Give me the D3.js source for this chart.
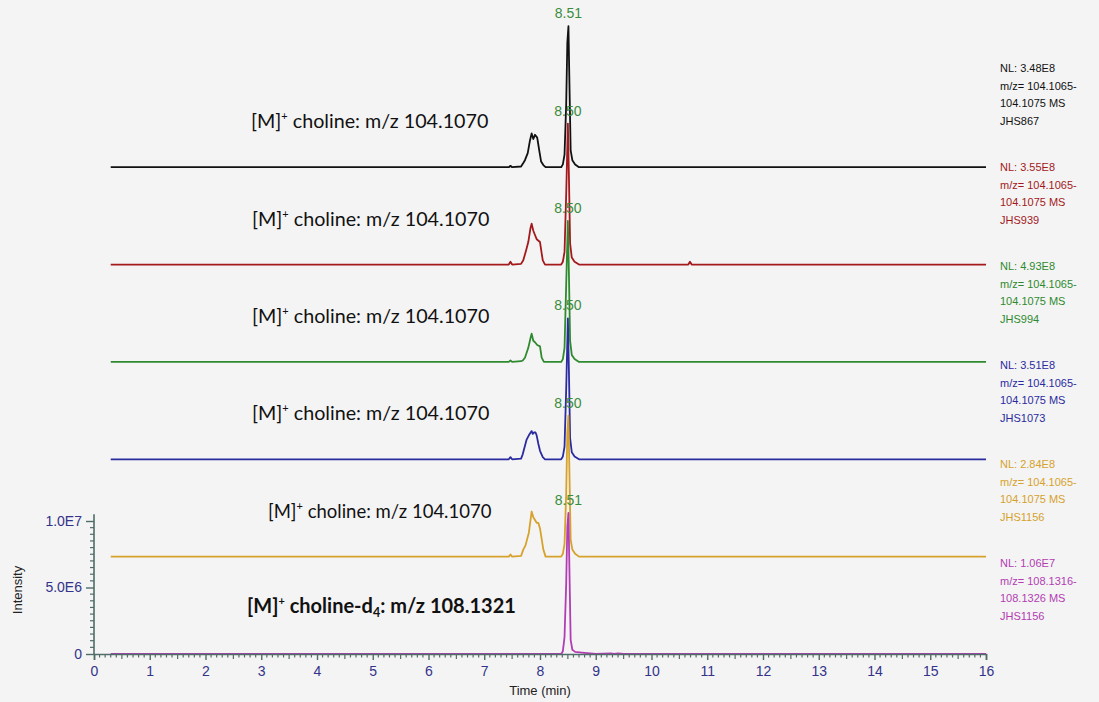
<!DOCTYPE html>
<html>
<head>
<meta charset="utf-8">
<script src="https://cdn.jsdelivr.net/npm/d3@7"></script>
<style>
  body { margin: 0; background: #f4f4f4; }
  svg { display: block; }
</style>
</head>
<body>
<div id="chart"></div>
<script>

let width = 1099
let height = 702

// traces, top to bottom; values are % of each trace's NL
let seriesNames = ['JHS867', 'JHS939', 'JHS994', 'JHS1073', 'JHS1156', 'JHS1156-d4']
let seriesColors = ['#111111', '#a3191c', '#2f8a2f', '#2b2ba0', '#d6a22c', '#b23db3']
let nlLabels = ['NL: 3.48E8', 'NL: 3.55E8', 'NL: 4.93E8', 'NL: 3.51E8', 'NL: 2.84E8', 'NL: 1.06E7']
let mzLabels = [
	['m/z= 104.1065-', '104.1075 MS'],
	['m/z= 104.1065-', '104.1075 MS'],
	['m/z= 104.1065-', '104.1075 MS'],
	['m/z= 104.1065-', '104.1075 MS'],
	['m/z= 104.1065-', '104.1075 MS'],
	['m/z= 108.1316-', '108.1326 MS']
]
let fileLabels = ['JHS867', 'JHS939', 'JHS994', 'JHS1073', 'JHS1156', 'JHS1156']
let peakTimes = [8.51, 8.50, 8.50, 8.50, 8.50, 8.51]
let peakLabels = ['8.51', '8.50', '8.50', '8.50', '8.50', '8.51']
let annotations = ['choline: m/z 104.1070', 'choline: m/z 104.1070', 'choline: m/z 104.1070',
	'choline: m/z 104.1070', 'choline: m/z 104.1070', 'choline-d']

let blackTime = [0.3, 7.44, 7.47, 7.50, 7.66, 7.70, 7.73, 7.78, 7.82, 7.85, 7.88, 7.91, 7.95, 7.99, 8.02, 8.06, 8.10, 8.38, 8.41, 8.44, 8.47, 8.49, 8.51, 8.53, 8.55, 8.58, 8.63, 8.70, 16]
let blackRel = [0, 0, 1, 0, 0.5, 3, 5, 10, 19, 24, 20, 23, 21, 11, 4, 1.5, 0, 0, 2, 9, 45, 88, 100, 55, 12, 5, 2, 0, 0]

let redTime = [0.3, 7.44, 7.47, 7.50, 7.66, 7.70, 7.75, 7.79, 7.83, 7.85, 7.88, 7.91, 7.94, 8.00, 8.03, 8.05, 8.09, 8.38, 8.41, 8.44, 8.47, 8.50, 8.52, 8.54, 8.57, 8.62, 8.70, 10.66, 10.69, 10.72, 16]
let redRel = [0, 0, 2, 0, 0.5, 3, 10, 16, 26, 29, 24, 21, 18, 16, 8, 3, 0, 0, 2, 9, 50, 100, 60, 15, 5, 2, 0, 0, 2, 0, 0]

let greenTime = [0.3, 7.44, 7.47, 7.50, 7.66, 7.69, 7.73, 7.79, 7.83, 7.85, 7.88, 7.91, 7.95, 8.00, 8.03, 8.07, 8.38, 8.41, 8.44, 8.47, 8.50, 8.52, 8.54, 8.57, 8.62, 8.70, 16]
let greenRel = [0, 0, 1, 0, 0.5, 1, 3, 10, 17, 20, 15, 14, 12, 11, 3, 0, 0, 2, 10, 55, 100, 60, 15, 5, 2, 0, 0]

let blueTime = [0.3, 7.44, 7.47, 7.50, 7.66, 7.69, 7.76, 7.80, 7.85, 7.87, 7.89, 7.92, 7.94, 7.97, 8.00, 8.05, 8.09, 8.38, 8.41, 8.44, 8.47, 8.50, 8.52, 8.54, 8.57, 8.62, 8.70, 16]
let blueRel = [0, 0, 1.5, 0, 0.5, 3.5, 14, 17, 20, 18, 19, 19, 17, 11, 6, 1.5, 0, 0, 2, 9, 50, 100, 60, 15, 5, 2, 0, 0]

let orangeTime = [0.3, 7.44, 7.47, 7.50, 7.66, 7.70, 7.74, 7.76, 7.80, 7.85, 7.88, 7.91, 7.94, 7.97, 8.00, 8.06, 8.10, 8.38, 8.41, 8.44, 8.47, 8.49, 8.51, 8.53, 8.55, 8.58, 8.63, 8.70, 16]
let orangeRel = [0, 0, 1.5, 0, 0.5, 5, 8, 11, 17, 32, 28, 26, 24, 24, 20, 5, 0, 0, 2, 9, 45, 88, 100, 55, 12, 5, 2, 0, 0]

let magentaTime = [0.3, 8.38, 8.41, 8.44, 8.47, 8.49, 8.51, 8.53, 8.55, 8.58, 8.63, 8.75, 8.90, 9.00, 9.27, 9.33, 9.40, 9.50, 16]
let magentaRel = [0, 0, 2, 12, 50, 90, 100, 55, 10, 3, 1.5, 1, 0.5, 0, 0.5, 0, 0.5, 0, 0]

let seriesTime = [blackTime, redTime, greenTime, blueTime, orangeTime, magentaTime]
let seriesRel = [blackRel, redRel, greenRel, blueRel, orangeRel, magentaRel]

// vertical stacking step between traces, in intensity units of the bottom trace
let stackStep = 7.32e6
let bottomNL = 1.06e7

let xTicks = d3.range(0, 17)
let yTicks = [0, 5e6, 1e7]
let yTickLabels = ['0', '5.0E6', '1.0E7']

const svg = d3.select('#chart')
	.append('svg')
	.attr('width', width)
	.attr('height', height)
	.style('font-family', 'Liberation Sans, Arial, sans-serif')

svg.append('rect')
	.attr('width', width)
	.attr('height', height)
	.attr('fill', '#f4f4f4')

let xScale = d3.scaleLinear()
	.domain([0, 16])
	.range([94, 986])

let yScale = d3.scaleLinear()
	.domain([0, 1e7])
	.range([654, 521])

let axisColor = '#4f6d68'
let labelColor = '#33338a'

// traces
let line = d3.line()
	.x(d => xScale(d.t))
	.y(d => yScale(d.v))

let nTraces = seriesNames.length

for(let i = 0; i < nTraces; i++){

	let offset = (nTraces - 1 - i) * stackStep

	let pts = seriesTime[i].map((t, j) => ({'t': t, 'v': offset + seriesRel[i][j] / 100 * bottomNL}))

	svg.append('path')
		.datum(pts)
		.attr('d', line)
		.attr('fill', 'none')
		.attr('stroke', seriesColors[i])
		.attr('stroke-width', 1.8)
		.attr('stroke-linejoin', 'round')

	// peak retention time label
	svg.append('text')
		.attr('x', xScale(peakTimes[i]))
		.attr('y', yScale(offset + bottomNL) - 8)
		.attr('text-anchor', 'middle')
		.attr('fill', '#3b8c3b')
		.style('font-size', '14px')
		.text(peakLabels[i])
}

// x axis
let xAxis = g => g.attr('transform', `translate(0,654)`)
	.call(d3.axisBottom(xScale).tickValues(xTicks).tickSize(6).tickPadding(6).tickFormat(d3.format('d')))

let gx = svg.append('g').call(xAxis)
gx.select('.domain').attr('stroke', axisColor).attr('stroke-width', 1.6)
gx.selectAll('line').attr('stroke', axisColor).attr('stroke-width', 1.4)
gx.selectAll('text').attr('fill', labelColor).style('font-size', '14px').style('font-family', 'Liberation Sans, Arial, sans-serif')

let xMinor = d3.range(0, 160).map(d => d / 10).filter(d => Math.abs(d - Math.round(d)) > 0.01)
svg.append('g').selectAll('line')
	.data(xMinor)
	.enter()
	.append('line')
	.attr('x1', d => xScale(d))
	.attr('x2', d => xScale(d))
	.attr('y1', 654)
	.attr('y2', d => Math.abs(d % 1 - 0.5) < 0.01 ? 659 : 657.5)
	.attr('stroke', axisColor)
	.attr('stroke-width', 1.2)

// y axis
let yAxis = g => g.attr('transform', `translate(94,0)`)
	.call(d3.axisLeft(yScale).tickValues(yTicks).tickSize(8).tickPadding(4).tickFormat((d, i) => yTickLabels[i]))

let gy = svg.append('g').call(yAxis)
gy.select('.domain').remove()
gy.selectAll('line').attr('stroke', axisColor).attr('stroke-width', 1.4)
gy.selectAll('text').attr('fill', labelColor).style('font-size', '14px').style('font-family', 'Liberation Sans, Arial, sans-serif')

svg.append('line')
	.attr('x1', 94).attr('x2', 94)
	.attr('y1', yScale(0)).attr('y2', yScale(1.05e7))
	.attr('stroke', axisColor)
	.attr('stroke-width', 1.6)

let yMinor = d3.range(5e5, 1.05e7, 5e5).filter(d => d % 5e6 !== 0)
svg.append('g').selectAll('line')
	.data(yMinor)
	.enter()
	.append('line')
	.attr('x1', 90)
	.attr('x2', 94)
	.attr('y1', d => yScale(d))
	.attr('y2', d => yScale(d))
	.attr('stroke', axisColor)
	.attr('stroke-width', 1.2)

// axis titles
svg.append('text')
	.attr('x', xScale(8))
	.attr('y', 695)
	.attr('text-anchor', 'middle')
	.attr('fill', '#222')
	.style('font-size', '13px')
	.text('Time (min)')

svg.append('text')
	.attr('transform', 'translate(22,590) rotate(-90)')
	.attr('text-anchor', 'middle')
	.attr('fill', '#222')
	.style('font-size', '13px')
	.text('Intensity')

// right-hand NL blocks
for(let i = 0; i < nTraces; i++){

	let top = 72 + i * 99

	let rows = [nlLabels[i], mzLabels[i][0], mzLabels[i][1], fileLabels[i]]

	svg.append('g').selectAll('text')
		.data(rows)
		.enter()
		.append('text')
		.attr('x', 1000)
		.attr('y', (d, j) => top + j * 17.5)
		.attr('fill', seriesColors[i])
		.style('font-size', '11px')
		.text(d => d)
}

// compound annotations
let annX = [251, 252, 252, 252, 268, 247]
let annSize = [19.7, 19.7, 19.7, 19.7, 18.5, 20]

for(let i = 0; i < nTraces; i++){

	let offset = (nTraces - 1 - i) * stackStep

	let bold = i === nTraces - 1

	let t = svg.append('text')
		.attr('x', annX[i])
		.attr('y', yScale(offset) - (bold ? 41 : 39))
		.attr('fill', '#111')
		.style('font-family', 'Lato, Open Sans, sans-serif')
		.style('font-size', annSize[i] + 'px')
		.style('font-weight', bold ? 'bold' : 'normal')

	t.append('tspan').text('[M]')
	t.append('tspan').attr('dy', -8).style('font-size', '11px').text('+')
	t.append('tspan').attr('dy', 8).text(' ' + annotations[i])

	if(bold){
		t.append('tspan').attr('dy', 4).style('font-size', '12.5px').text('4')
		t.append('tspan').attr('dy', -4).text(': m/z 108.1321')
	}
}

</script>
</body>
</html>
